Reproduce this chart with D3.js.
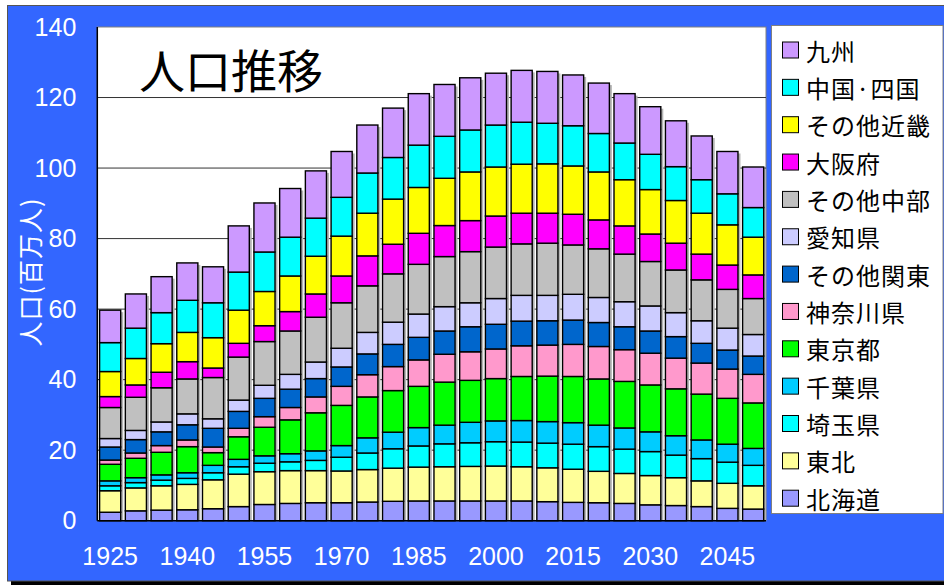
<!DOCTYPE html>
<html>
<head>
<meta charset="utf-8">
<script src="https://cdn.jsdelivr.net/npm/d3@7"></script>
<style>
  body { margin: 0; background: #fff; }
  svg { display: block; }
</style>
</head>
<body>
<svg id="chart" width="944" height="585"></svg>
<script>
// 年次 (5年ごと)
var years = [1925, 1930, 1935, 1940, 1945, 1950, 1955, 1960, 1965, 1970, 1975, 1980, 1985,
  1990, 1995, 2000, 2005, 2010, 2015, 2020, 2025, 2030, 2035, 2040, 2045, 2050];
var yTicks = [0, 20, 40, 60, 80, 100, 120, 140];
var xLabelYears = [1925, 1940, 1955, 1970, 1985, 2000, 2015, 2030, 2045];

// 地域別人口 (百万人)
var hokkaido = [2.4, 2.8, 3.0, 3.1, 3.4, 4.0, 4.6, 4.9, 5.1, 5.1, 5.3, 5.5, 5.6, 5.6, 5.6, 5.6, 5.6, 5.4, 5.2, 5.1, 4.9, 4.5, 4.3, 4.0, 3.5, 3.3];
var tohoku = [6.1, 6.5, 6.9, 7.2, 8.2, 9.2, 9.3, 9.3, 9.1, 9.0, 9.2, 9.4, 9.6, 9.7, 9.8, 9.9, 9.7, 9.6, 9.4, 8.9, 8.5, 8.3, 7.9, 7.3, 7.1, 6.6];
var saitama = [1.4, 1.5, 1.6, 1.7, 2.0, 2.1, 2.4, 2.5, 2.9, 3.9, 4.7, 5.5, 6.0, 6.5, 6.7, 6.9, 7.0, 7.0, 7.1, 7.0, 6.9, 6.8, 6.4, 6.3, 6.0, 5.8];
var chiba = [1.4, 1.4, 1.5, 1.6, 2.1, 2.1, 2.1, 2.3, 2.7, 3.3, 4.3, 4.7, 5.2, 5.3, 5.8, 5.9, 6.1, 6.1, 6.1, 6.1, 6.0, 5.6, 5.5, 5.3, 5.1, 4.8];
var tokyo = [4.7, 5.5, 6.4, 7.4, 3.6, 6.4, 8.1, 9.6, 10.8, 11.4, 11.6, 11.8, 11.7, 12.2, 11.9, 12.0, 12.5, 12.9, 13.1, 13.1, 13.2, 13.3, 13.3, 13.0, 13.0, 12.9];
var kanagawa = [1.2, 1.5, 1.9, 1.9, 1.6, 2.4, 3.0, 3.5, 4.5, 5.4, 6.3, 6.8, 7.5, 7.9, 8.1, 8.4, 8.7, 8.8, 9.1, 9.2, 9.0, 9.0, 8.7, 8.8, 8.3, 8.1];
var otherKanto = [3.7, 3.8, 3.9, 4.3, 5.3, 4.8, 5.2, 5.2, 5.2, 5.5, 5.9, 6.3, 6.4, 6.6, 7.1, 7.0, 7.0, 6.9, 6.9, 6.8, 6.5, 6.3, 6.1, 5.6, 5.4, 5.2];
var aichi = [2.4, 2.6, 2.8, 3.1, 2.7, 3.2, 3.7, 4.2, 4.7, 5.3, 6.1, 6.3, 6.6, 6.9, 6.8, 7.3, 7.3, 7.2, 7.3, 7.1, 7.1, 7.1, 6.8, 6.4, 6.2, 6.1];
var otherChubu = [8.8, 9.4, 9.7, 9.9, 11.7, 12.2, 12.4, 12.3, 12.7, 12.9, 13.2, 13.7, 14.1, 14.2, 14.5, 14.6, 14.6, 14.8, 14.0, 13.8, 13.5, 12.6, 12.1, 11.6, 11.0, 10.2];
var osaka = [3.1, 3.5, 4.4, 4.9, 2.7, 3.9, 4.5, 5.5, 6.6, 7.6, 8.5, 8.4, 8.8, 8.8, 8.8, 8.8, 8.7, 8.5, 8.7, 8.2, 8.0, 7.8, 7.6, 7.3, 6.9, 6.7];
var otherKinki = [7.1, 7.5, 8.1, 8.3, 8.6, 9.4, 9.7, 10.1, 10.7, 11.3, 12.1, 12.8, 13.0, 13.4, 13.8, 13.9, 13.9, 14.0, 13.7, 13.6, 13.1, 12.6, 12.1, 11.6, 11.4, 10.7];
var chugokuShikoku = [8.2, 8.6, 8.8, 9.1, 9.9, 10.8, 11.2, 11.0, 10.8, 11.0, 11.4, 11.8, 12.0, 11.9, 11.9, 11.9, 11.9, 11.5, 11.4, 10.9, 10.4, 10.0, 9.6, 9.5, 8.8, 8.4];
var kyushu = [9.2, 9.7, 10.2, 10.6, 10.2, 13.1, 13.9, 13.8, 13.4, 13.0, 13.6, 14.0, 14.6, 14.7, 14.8, 14.7, 14.7, 14.7, 14.4, 14.3, 14.0, 13.5, 13.0, 12.4, 12.0, 11.5];

// 積み上げ順 (下から)
var regionNames = ["北海道", "東北", "埼玉県", "千葉県", "東京都", "神奈川県", "その他関東",
  "愛知県", "その他中部", "大阪府", "その他近畿", "中国·四国", "九州"];
var regionValues = [hokkaido, tohoku, saitama, chiba, tokyo, kanagawa, otherKanto,
  aichi, otherChubu, osaka, otherKinki, chugokuShikoku, kyushu];
var regionColors = ["#9999ff", "#ffff99", "#00ffff", "#00ccff", "#00ff00", "#ff99cc", "#0066cc",
  "#ccccff", "#c0c0c0", "#ff00ff", "#ffff00", "#00ffff", "#cc99ff"];

var rows = years.map(function(y, i) {
  var r = { year: y };
  regionNames.forEach(function(n, k) { r[n] = regionValues[k][i]; });
  return r;
});

var svg = d3.select("#chart");
var jp = "'Noto Sans CJK JP', 'Noto Sans', sans-serif";
var num = "'Liberation Sans', Arial, sans-serif";

var plot = { left: 97.3, top: 27, right: 766, bottom: 520.7 };

// 外枠
svg.append("rect").attr("x", 11).attr("y", 10).attr("width", 940).attr("height", 575).attr("fill", "#000");
svg.append("rect").attr("x", 7.5).attr("y", 5.5).attr("width", 945).attr("height", 575.5)
  .attr("fill", "#3366ff").attr("stroke", "#555").attr("stroke-width", 1);

// プロット領域
svg.append("rect").attr("x", plot.left).attr("y", plot.top)
  .attr("width", plot.right - plot.left).attr("height", plot.bottom - plot.top)
  .attr("fill", "#fff").attr("stroke", "#808080").attr("stroke-width", 1);

var x = d3.scaleBand().domain(years).range([plot.left, plot.right]).paddingInner(0.18).paddingOuter(0.09);
var y = d3.scaleLinear().domain([0, 140]).range([plot.bottom, plot.top]);

// グリッド線
svg.append("g").selectAll("line").data(yTicks.slice(1, -1)).enter().append("line")
  .attr("x1", plot.left).attr("x2", plot.right)
  .attr("y1", function(d) { return y(d); }).attr("y2", function(d) { return y(d); })
  .attr("stroke", "#333").attr("stroke-width", 1);

// タイトル
svg.append("text").attr("x", 139).attr("y", 88).attr("font-family", jp).attr("font-size", 46)
  .attr("fill", "#000").text("人口推移");

// 棒
var series = d3.stack().keys(regionNames)(rows);

svg.append("g").selectAll("rect").data(rows).enter().append("rect")
  .attr("x", function(d) { return x(d.year) + 2.5; })
  .attr("y", function(d) { return y(d3.sum(regionNames, function(n) { return d[n]; })) + 2; })
  .attr("width", x.bandwidth())
  .attr("height", function(d) { return plot.bottom - 2 - y(d3.sum(regionNames, function(n) { return d[n]; })); })
  .attr("fill", "#b4b4b4");

var layers = svg.append("g").selectAll("g").data(series).enter().append("g")
  .attr("fill", function(d, i) { return regionColors[i]; });

layers.selectAll("rect").data(function(d) { return d; }).enter().append("rect")
  .attr("x", function(d) { return x(d.data.year); })
  .attr("y", function(d) { return y(d[1]); })
  .attr("width", x.bandwidth())
  .attr("height", function(d) { return y(d[0]) - y(d[1]); })
  .attr("stroke", "#000").attr("stroke-width", 1.4);

// 軸
svg.append("line").attr("x1", plot.left).attr("x2", plot.left).attr("y1", plot.top).attr("y2", plot.bottom)
  .attr("stroke", "#000").attr("stroke-width", 1.5);
svg.append("line").attr("x1", plot.left).attr("x2", plot.right).attr("y1", plot.bottom).attr("y2", plot.bottom)
  .attr("stroke", "#000").attr("stroke-width", 1.5);

var yAxis = d3.axisLeft(y).tickValues(yTicks).tickSize(0).tickPadding(21);
var gy = svg.append("g").attr("transform", "translate(" + plot.left + ",0)").call(yAxis);
gy.select(".domain").remove();
gy.selectAll("text").attr("fill", "#fff").attr("font-family", num).attr("font-size", 25);

var xAxis = d3.axisBottom(x).tickValues(xLabelYears).tickSize(0).tickPadding(27);
var gx = svg.append("g").attr("transform", "translate(0," + plot.bottom + ")").call(xAxis);
gx.select(".domain").remove();
gx.selectAll("text").attr("fill", "#fff").attr("font-family", num).attr("font-size", 25);

// 縦軸タイトル
svg.append("text").attr("transform", "translate(29,272) rotate(-90)")
  .attr("text-anchor", "middle").attr("dominant-baseline", "central")
  .attr("font-family", jp).attr("font-size", 25).attr("fill", "#fff").attr("letter-spacing", 1)
  .text("人口(百万人)");

// 凡例
svg.append("rect").attr("x", 771.5).attr("y", 25.5).attr("width", 171.5).attr("height", 488)
  .attr("fill", "#fff").attr("stroke", "#808080");

var legendOrder = regionNames.slice().reverse();
var lg = svg.append("g").selectAll("g").data(legendOrder).enter().append("g")
  .attr("transform", function(d, i) { return "translate(782," + (50 + i * 37.35) + ")"; });
lg.append("rect").attr("x", 0.5).attr("y", -8).attr("width", 16).attr("height", 16)
  .attr("fill", function(d) { return regionColors[regionNames.indexOf(d)]; })
  .attr("stroke", "#000").attr("stroke-width", 1);
lg.append("text").attr("x", 24).attr("y", 0).attr("dominant-baseline", "central")
  .attr("font-family", jp).attr("font-size", 24).attr("letter-spacing", 1).attr("fill", "#000")
  .text(function(d) { return d; });
</script>
</body>
</html>
